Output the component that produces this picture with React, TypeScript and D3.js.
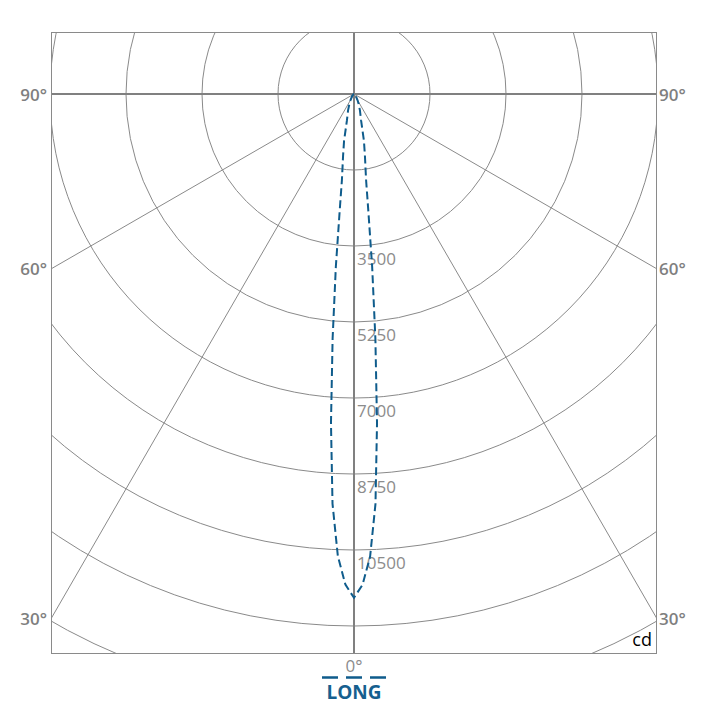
import React from "react";
import * as d3 from "d3";

// Data
const gammaAngles = [0, 1, 2, 3, 4, 5, 6, 7, 8, 10, 12, 15, 20, 25, 30, 40, 50, 60, 70, 80, 90];
const intensities = [11600, 11300, 10650, 9450, 7600, 5650, 4000, 2700, 2000, 1450, 1100, 630, 400, 250, 160, 70, 30, 12, 5, 2, 0];
const gridValues = [1750, 3500, 5250, 7000, 8750, 10500, 12250, 14000, 15750];
const labelValues = [3500, 5250, 7000, 8750, 10500];
const angleTicks = [30, 60, 90];
const radialLines = [-60, -30, 30, 60];
const unitLabel = "cd";
const planeLabel = "LONG";

const W = 708;
const H = 708;
const cx = 354;
const cy = 94;
const frame = { x0: 51, y0: 32, x1: 656, y1: 653 };

export default function App() {
  const r = d3.scaleLinear().domain([0, 1750]).range([0, 76]);
  const toRad = (deg: number) => (deg * Math.PI) / 180;

  const pts: [number, number][] = [];
  for (let i = gammaAngles.length - 1; i > 0; i--) pts.push([-gammaAngles[i], intensities[i]]);
  for (let i = 0; i < gammaAngles.length; i++) pts.push([gammaAngles[i], intensities[i]]);

  const line = d3
    .lineRadial<[number, number]>()
    .angle((d) => Math.PI - toRad(d[0]))
    .radius((d) => r(d[1]))
    .curve(d3.curveLinear);

  const grey = "#8a8a8a";
  const edgeDx = cx - frame.x0;
  const font = "'Open Sans', 'Segoe UI', sans-serif";

  return (
    <svg width={W} height={H} style={{ position: "absolute", left: 0, top: 0, background: "#fff" }}>
      <defs>
        <clipPath id="plotClip">
          <rect x={frame.x0} y={frame.y0} width={frame.x1 - frame.x0} height={frame.y1 - frame.y0} />
        </clipPath>
      </defs>
      <g clipPath="url(#plotClip)">
        {gridValues.map((v) => (
          <circle key={v} cx={cx} cy={cy} r={r(v)} fill="none" stroke={grey} strokeWidth={1} />
        ))}
        {radialLines.map((a) => {
          const len = 2000;
          return (
            <line
              key={a}
              x1={cx}
              y1={cy}
              x2={cx + len * Math.sin(toRad(a))}
              y2={cy + len * Math.cos(toRad(a))}
              stroke={grey}
              strokeWidth={1}
            />
          );
        })}
      </g>
      <line x1={cx} y1={frame.y0} x2={cx} y2={frame.y1} stroke="#808080" strokeWidth={2} />
      <line x1={frame.x0} y1={cy} x2={frame.x1} y2={cy} stroke="#808080" strokeWidth={2} />
      <rect
        x={frame.x0 + 0.5}
        y={frame.y0 + 0.5}
        width={frame.x1 - frame.x0}
        height={frame.y1 - frame.y0}
        fill="none"
        stroke={grey}
        strokeWidth={1}
      />
      {labelValues.map((v) => (
        <text key={v} x={cx + 3} y={cy + r(v) + 19} fill="#8c8c8c" fontSize={17} fontFamily={font}>
          {v}
        </text>
      ))}
      <g clipPath="url(#plotClip)">
        <path
          d={line(pts) || ""}
          transform={`translate(${cx},${cy})`}
          fill="none"
          stroke="#0f5c8c"
          strokeWidth={2}
          strokeDasharray="8,4"
        />
      </g>
      {angleTicks.map((a) => {
        const y = a === 90 ? cy : cy + edgeDx / Math.tan(toRad(a));
        return (
          <g key={a}>
            <text x={frame.x0 - 4} y={y} textAnchor="end" dominantBaseline="central" fill="#7f7f7f" fontSize={17} fontWeight={600} fontFamily={font}>
              {a}°
            </text>
            <text x={frame.x1 + 3} y={y} textAnchor="start" dominantBaseline="central" fill="#7f7f7f" fontSize={17} fontWeight={600} fontFamily={font}>
              {a}°
            </text>
          </g>
        );
      })}
      <text x={frame.x1 - 4} y={frame.y1 - 7} textAnchor="end" fill="#000" fontSize={18} fontFamily={font}>
        {unitLabel}
      </text>
      <text x={cx} y={672} textAnchor="middle" fill="#8c8c8c" fontSize={17} fontFamily={font}>
        0°
      </text>
      <line x1={322} y1={677.5} x2={387} y2={677.5} stroke="#0f5c8c" strokeWidth={2.5} strokeDasharray="16,8" />
      <text x={cx} y={699} textAnchor="middle" fill="#165f8f" fontSize={19} fontWeight={700} fontFamily={font}>
        {planeLabel}
      </text>
    </svg>
  );
}
